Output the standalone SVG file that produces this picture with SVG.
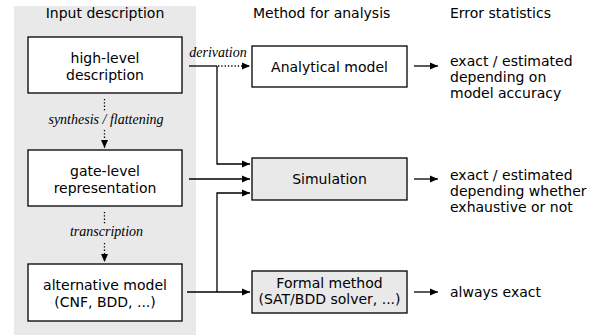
<svg xmlns="http://www.w3.org/2000/svg" width="599" height="335" viewBox="0 0 599 335">
  <style>
    .hdr { font-family: "DejaVu Sans", sans-serif; font-size: 14px; fill: #000; }
    .txt { font-family: "DejaVu Sans", sans-serif; font-size: 14px; fill: #000; }
    .lbl { font-family: "Liberation Serif", serif; font-style: italic; font-size: 14px; fill: #000; }
    .box { fill: #fff; stroke: #000; stroke-width: 1.3; }
    .gbox { fill: #e9e9e9; stroke: #000; stroke-width: 1.3; }
    .wire { fill: none; stroke: #000; stroke-width: 1.3; }
    .dot { fill: none; stroke: #000; stroke-width: 1.3; stroke-dasharray: 1.3 2; }
  </style>
  <defs>
    <marker id="ah" viewBox="0 0 8 8" refX="8" refY="4" markerWidth="8" markerHeight="8" markerUnits="userSpaceOnUse" orient="auto">
      <path d="M0,0.5 L8,4 L0,7.5 Z" fill="#000"/>
    </marker>
  </defs>

  <!-- input column background -->
  <rect x="14" y="6" width="182" height="329" fill="#e9e9e9"/>

  <!-- column headings -->
  <text class="hdr" x="105" y="18" text-anchor="middle">Input description</text>
  <text class="hdr" x="253" y="18">Method for analysis</text>
  <text class="hdr" x="450" y="18">Error statistics</text>

  <g id="high-level">
    <rect class="box" x="28" y="37" width="154" height="56"/>
    <text class="txt" x="105" y="63" text-anchor="middle">high-level</text>
    <text class="txt" x="105" y="80" text-anchor="middle">description</text>
  </g>

  <g id="gate-level">
    <rect class="box" x="28" y="150" width="154" height="56"/>
    <text class="txt" x="105" y="176" text-anchor="middle">gate-level</text>
    <text class="txt" x="105" y="193" text-anchor="middle">representation</text>
  </g>

  <g id="alternative">
    <rect class="box" x="28" y="264" width="154" height="57"/>
    <text class="txt" x="105" y="290" text-anchor="middle">alternative model</text>
    <text class="txt" x="105" y="307" text-anchor="middle">(CNF, BDD, ...)</text>
  </g>

  <g id="analytical">
    <rect class="box" x="252" y="46" width="155" height="41"/>
    <text class="txt" x="329.5" y="71.5" text-anchor="middle">Analytical model</text>
  </g>

  <g id="simulation">
    <rect class="gbox" x="252" y="158" width="155" height="42"/>
    <text class="txt" x="329.5" y="184" text-anchor="middle">Simulation</text>
  </g>

  <g id="formal">
    <rect class="gbox" x="252" y="271" width="155" height="42"/>
    <text class="txt" x="329.5" y="288" text-anchor="middle">Formal method</text>
    <text class="txt" x="329.5" y="304" text-anchor="middle">(SAT/BDD solver, ...)</text>
  </g>

  <g id="stats">
    <text class="txt" x="450" y="66">exact / estimated</text>
    <text class="txt" x="450" y="82">depending on</text>
    <text class="txt" x="450" y="98">model accuracy</text>
    <text class="txt" x="450" y="180">exact / estimated</text>
    <text class="txt" x="450" y="196">depending whether</text>
    <text class="txt" x="450" y="212">exhaustive or not</text>
    <text class="txt" x="450" y="297">always exact</text>
  </g>

  <g id="connectors">
    <!-- refinement steps inside the input column -->
    <line class="dot" x1="104.5" y1="99" x2="104.5" y2="111"/>
    <line class="dot" x1="104.5" y1="130" x2="104.5" y2="148" marker-end="url(#ah)"/>
    <text class="lbl" x="106" y="124" text-anchor="middle">synthesis / flattening</text>

    <line class="dot" x1="104.5" y1="212" x2="104.5" y2="224"/>
    <line class="dot" x1="104.5" y1="243" x2="104.5" y2="262" marker-end="url(#ah)"/>
    <text class="lbl" x="106.5" y="236" text-anchor="middle">transcription</text>

    <!-- high-level description to analytical model and simulation -->
    <text class="lbl" x="218" y="57" text-anchor="middle">derivation</text>
    <line class="wire" x1="189" y1="66" x2="217" y2="66"/>
    <line class="dot" x1="218" y1="66" x2="250" y2="66" marker-end="url(#ah)"/>
    <polyline class="wire" points="217,66 217,164 250,164" marker-end="url(#ah)"/>

    <!-- gate-level to simulation -->
    <line class="wire" x1="189" y1="179" x2="250" y2="179" marker-end="url(#ah)"/>

    <!-- alternative model to formal method and simulation -->
    <line class="wire" x1="187" y1="292" x2="250" y2="292" marker-end="url(#ah)"/>
    <polyline class="wire" points="217,292 217,193 250,193" marker-end="url(#ah)"/>

    <!-- results -->
    <line class="wire" x1="414" y1="66" x2="438" y2="66" marker-end="url(#ah)"/>
    <line class="wire" x1="414" y1="179" x2="438" y2="179" marker-end="url(#ah)"/>
    <line class="wire" x1="414" y1="292" x2="438" y2="292" marker-end="url(#ah)"/>
  </g>
</svg>
